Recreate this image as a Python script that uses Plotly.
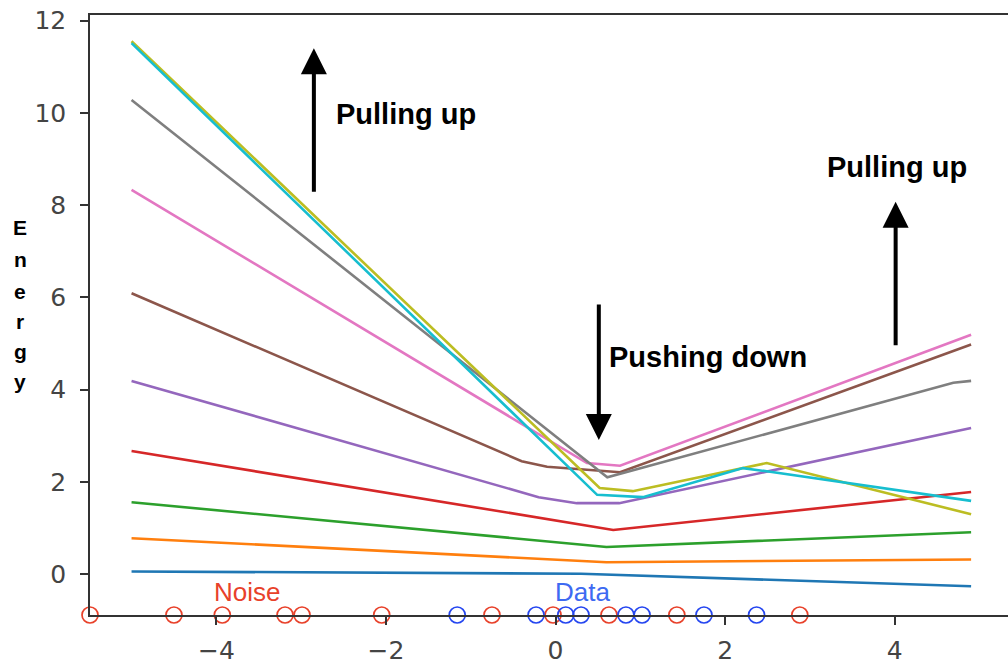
import plotly.graph_objects as go

# ---- data ----
blue_x = [-5.0, 0.3, 4.9]
blue_y = [0.06, 0.01, -0.26]
orange_x = [-5.0, 0.6, 4.9]
orange_y = [0.78, 0.26, 0.32]
green_x = [-5.0, 0.6, 4.9]
green_y = [1.56, 0.59, 0.91]
red_x = [-5.0, 0.68, 4.9]
red_y = [2.67, 0.96, 1.78]
purple_x = [-5.0, -0.2, 0.25, 0.75, 4.9]
purple_y = [4.19, 1.67, 1.54, 1.54, 3.17]
brown_x = [-5.0, -0.4, -0.1, 0.76, 4.9]
brown_y = [6.09, 2.45, 2.33, 2.21, 4.98]
pink_x = [-5.0, 0.37, 0.76, 4.9]
pink_y = [8.33, 2.41, 2.35, 5.19]
gray_x = [-5.0, 0.61, 4.69, 4.9]
gray_y = [10.28, 2.10, 4.15, 4.19]
olive_x = [-5.0, 0.52, 0.91, 2.49, 4.9]
olive_y = [11.55, 1.87, 1.80, 2.41, 1.30]
cyan_x = [-5.0, 0.49, 1.03, 2.21, 2.49, 4.9]
cyan_y = [11.51, 1.72, 1.67, 2.30, 2.23, 1.59]

noise_x = [-5.49, -4.50, -3.93, -3.19, -2.99, -2.05, -0.75, -0.03, 0.63, 1.43, 2.88]
data_x = [-1.16, -0.23, 0.12, 0.30, 0.83, 1.02, 1.75, 2.37]
marker_level = -0.884

x_ticks = [-4, -2, 0, 2, 4]
y_ticks = [0, 2, 4, 6, 8, 10, 12]

series = [
    (blue_x, blue_y, "#1f77b4"),
    (orange_x, orange_y, "#ff7f0e"),
    (green_x, green_y, "#2ca02c"),
    (red_x, red_y, "#d62728"),
    (purple_x, purple_y, "#9467bd"),
    (brown_x, brown_y, "#8c564b"),
    (pink_x, pink_y, "#e377c2"),
    (gray_x, gray_y, "#7f7f7f"),
    (olive_x, olive_y, "#bcbd22"),
    (cyan_x, cyan_y, "#17becf"),
]

fig = go.Figure()
for xs, ys, c in series:
    fig.add_trace(go.Scatter(x=xs, y=ys, mode="lines",
                             line=dict(color=c, width=2.6), showlegend=False,
                             hoverinfo="skip"))

fig.add_trace(go.Scatter(x=noise_x, y=[marker_level] * len(noise_x), mode="markers",
                         marker=dict(symbol="circle-open", size=16, color="#e8412a",
                                     line=dict(width=1.7, color="#e8412a")),
                         cliponaxis=False, showlegend=False))
fig.add_trace(go.Scatter(x=data_x, y=[marker_level] * len(data_x), mode="markers",
                         marker=dict(symbol="circle-open", size=16, color="#2546f0",
                                     line=dict(width=1.7, color="#2546f0")),
                         cliponaxis=False, showlegend=False))

bold = dict(family="Liberation Sans, Arial, sans-serif", size=29, color="black")
ann = []
# arrows
for (tx, ty, ay) in [(-2.85, 11.40, 145), (4.01, 8.07, 145), (0.51, 2.91, -137)]:
    ann.append(dict(x=tx, y=ty, xref="x", yref="y", ax=0, ay=ay, text="",
                    showarrow=True, arrowhead=2, arrowwidth=4, arrowsize=1.3,
                    arrowcolor="black"))
# texts
ann.append(dict(x=-1.76, y=9.97, xref="x", yref="y", text="<b>Pulling up</b>",
                showarrow=False, font=bold, xanchor="center", yanchor="middle"))
ann.append(dict(x=4.03, y=8.83, xref="x", yref="y", text="<b>Pulling up</b>",
                showarrow=False, font=bold, xanchor="center", yanchor="middle"))
ann.append(dict(x=1.80, y=4.70, xref="x", yref="y", text="<b>Pushing down</b>",
                showarrow=False, font=bold, xanchor="center", yanchor="middle"))
ann.append(dict(x=-3.64, y=-0.38, xref="x", yref="y", text="Noise", showarrow=False,
                font=dict(family="Liberation Sans, Arial, sans-serif", size=26, color="#e8412a")))
ann.append(dict(x=0.32, y=-0.38, xref="x", yref="y", text="Data", showarrow=False,
                font=dict(family="Liberation Sans, Arial, sans-serif", size=26, color="#3d6af2")))
# vertical "Energy" label
for ch, py in zip("Energy", [227, 259, 291, 321, 351, 381]):
    ann.append(dict(x=(20 - 90) / 918, y=(615 - py) / 600, xref="paper", yref="paper",
                    text="<b>" + ch + "</b>", showarrow=False, xanchor="center", yanchor="middle",
                    font=dict(family="Liberation Sans, Arial, sans-serif", size=21, color="black")))

tickfont = dict(family="DejaVu Sans", size=25, color="#444")
fig.update_layout(
    width=1008, height=664,
    margin=dict(l=90, r=0, t=15, b=49),
    paper_bgcolor="white", plot_bgcolor="white",
    annotations=ann,
    xaxis=dict(range=[-5.49, 5.335], tickvals=x_ticks, ticktext=["\u22124", "\u22122", "0", "2", "4"],
               showgrid=False, zeroline=False, showline=True, linecolor="#333", linewidth=1.5,
               mirror=True, ticks="outside", ticklen=8, tickcolor="#333", tickwidth=1.5,
               tickfont=tickfont, ticklabelstandoff=4),
    yaxis=dict(range=[-0.884, 12.12], tickvals=y_ticks,
               showgrid=False, zeroline=False, showline=True, linecolor="#333", linewidth=1.5,
               mirror=False, ticks="outside", ticklen=8, tickcolor="#333", tickwidth=1.5,
               tickfont=tickfont, ticklabelstandoff=9),
)
fig.write_html("out.html")
